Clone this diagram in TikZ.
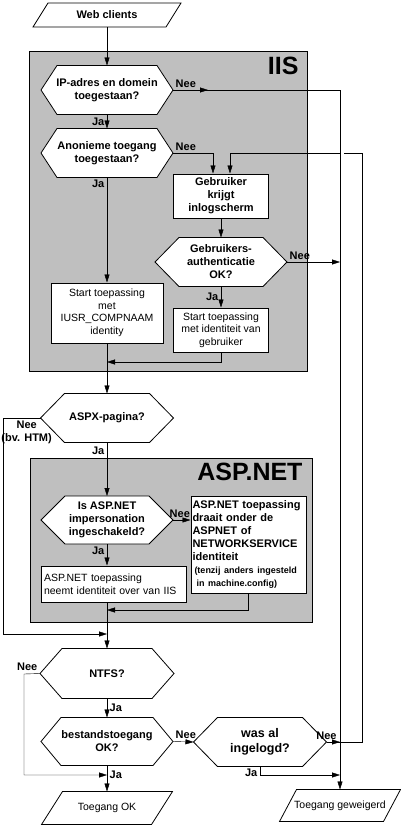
\documentclass[tikz,border=0pt]{standalone}
\usepackage{fontspec}
\setmainfont{Liberation Sans}
\usetikzlibrary{arrows.meta}

\pgfdeclarelayer{back}
\pgfdeclarelayer{shapes}
\pgfsetlayers{back,shapes,main}

\newcommand{\smalltxt}{\fontsize{9}{12.7}\selectfont}

\tikzset{
  arr/.style={-{Triangle[length=8pt,width=5pt]}},
  zone/.style={draw,fill=black!25},
  zonelbl/.style={font=\fontsize{25}{25}\selectfont\bfseries,inner sep=0pt},
  hexq/.style={align=center,inner sep=0pt},
  actbox/.style={draw,fill=white,align=center,inner sep=1pt},
  normtxt/.style={font=\fontsize{10.5}{12.5}\selectfont},
  lbl/.style={inner sep=2.5pt},
}

\begin{document}
\begin{tikzpicture}[x=1pt,y=-1pt,line width=1pt,
  every node/.style={font=\fontsize{11}{13}\selectfont\bfseries}]
\useasboundingbox (0,0) rectangle (401,825);

% input
\node[hexq,minimum width=147,minimum height=23] (web) at (107,15) {Web clients};

% IIS part
\node[zonelbl,anchor=base east] (iis) at (299,74) {IIS};
\node[hexq,minimum width=131,minimum height=48] (ip) at (107,90) {IP-adres en domein\\toegestaan?};
\node[hexq,minimum width=131,minimum height=48] (anon) at (107,153) {Anonieme toegang\\toegestaan?};
\node[actbox,minimum width=95,minimum height=44] (geb) at (221,196) {Gebruiker\\krijgt\\inlogscherm};
\node[hexq,minimum width=131,minimum height=48] (auth) at (221,262) {Gebruikers-\\authenticatie\\OK?};
\node[actbox,normtxt,minimum width=95,minimum height=44] (startid) at (221,330) {Start toepassing\\met identiteit van\\gebruiker};
\node[actbox,normtxt,minimum width=112,minimum height=60] (iusr) at (107,313) {Start toepassing\\met\\IUSR\_COMPNAAM\\identity};

\node[hexq,minimum width=132,minimum height=48] (aspx) at (107,418) {ASPX-pagina?};

% ASP.NET part
\node[zonelbl,anchor=base east] (aspnet) at (303,480) {ASP.NET};
\node[hexq,minimum width=131,minimum height=47] (isasp) at (107,520) {Is ASP.NET\\impersonation\\ingeschakeld?};
\node[actbox,align=left,text width=112,minimum height=97,inner sep=1.5pt] (netw) at (248.5,544.5)
  {ASP.NET toepassing\\draait onder de\\ASPNET of\\NETWORKSERVICE\\identiteit\\\smalltxt\hspace*{2pt}(tenzij anders ingesteld\\\hspace*{4pt}in machine.config)};
\node[actbox,normtxt,align=left,text width=139,minimum height=36,inner xsep=3pt] (neemt) at (113.5,584) {ASP.NET toepassing\\neemt identiteit over van IIS};

% file access
\node[hexq,minimum width=133,minimum height=49] (ntfs) at (107,673.5) {NTFS?};
\node[hexq,minimum width=131,minimum height=47] (best) at (107,741.5) {bestandstoegang\\OK?};
\node[hexq,font=\fontsize{12.5}{15}\selectfont\bfseries,minimum width=132,minimum height=48] (wasal) at (260,742) {was al\\ingelogd?};
\node[hexq,normtxt,minimum width=130,minimum height=32] (ok) at (107,808) {Toegang OK};
\node[hexq,normtxt,minimum width=120,minimum height=31] (deny) at (340,805.5) {Toegang geweigerd};

\coordinate (nee1) at (340,90);
\coordinate (back1) at (362,742);
\coordinate (join1) at (107,362);
\coordinate (join2) at (107,610);
\coordinate (join3) at (107,634);
\coordinate (join4) at (107,775);
\coordinate (skip1) at (3,418);
\coordinate (skip2) at (24,674);

\begin{pgfonlayer}{back}
  \fill[white] (0,0) rectangle (401,825);
  \draw[zone] (29,51) rectangle (307,371);
  \draw[zone] (30,458) rectangle (312,622);
\end{pgfonlayer}

\begin{pgfonlayer}{shapes}
  \foreach \n/\d in {ip/16,anon/16,auth/24,aspx/24,isasp/24,ntfs/22,best/20,wasal/24}
    \draw[fill=white,line width=0.8pt] (\n.west) -- ([xshift=\d]\n.north west) -- ([xshift=-\d]\n.north east)
      -- (\n.east) -- ([xshift=-\d]\n.south east) -- ([xshift=\d]\n.south west) -- cycle;
  \foreach \n/\d in {web/15,ok/21,deny/17}
    \draw[fill=white,line width=0.8pt] (\n.south west) -- ([xshift=\d]\n.north west) -- (\n.north east)
      -- ([xshift=-\d]\n.south east) -- cycle;
\end{pgfonlayer}

% connectors
\draw[arr] (web.south) -- (ip.north);
\draw[arr] (ip.south) -- node[lbl,left]{Ja} (anon.north);
\draw[arr] (ip.east) node[lbl,above right]{Nee} -- ([xshift=35]ip.east);
\draw[arr] (ip.east) -- (nee1) -- (nee1 |- deny.north);
\draw[arr] (anon.east) node[lbl,above right]{Nee} -| ([xshift=-8]geb.north);
\draw[arr] (anon.south) node[lbl,below left]{Ja} -- (iusr.north);
\draw[arr] (geb.south) -- (auth.north);
\draw[arr] (auth.east) node[lbl,above right]{Nee} -- (auth.east -| nee1);
\draw[arr] (auth.south) -- node[lbl,left]{Ja} (startid.north);
\draw[arr] (startid.south) |- (join1);
\draw[arr] (iusr.south) -- (aspx.north);
\draw[arr] (aspx.west) node[lbl,anchor=north east,align=center,xshift=14]{Nee\\(bv. HTM)} -- (skip1) |- (join3);
\draw[arr] (aspx.south) -- node[lbl,left,pos=0.15]{Ja} (isasp.north);
\draw[arr] (isasp.east) node[lbl,above right,xshift=-6]{Nee} -- (isasp.east -| netw.west);
\draw[arr] (isasp.south) node[lbl,below left]{Ja} -- (isasp.south |- neemt.north);
\draw[arr] (netw.south) |- (join2);
\draw[arr] (isasp.south |- neemt.south) -- (ntfs.north);
\draw[arr] (ntfs.west) node[lbl,above left]{Nee} -- (skip2) -- (skip2 |- join4) -- (join4);
\draw[arr] (ntfs.south) -- node[lbl,right]{Ja} (best.north);
\draw[arr] (best.east) node[lbl,above right]{Nee} -- (wasal.west);
\draw[arr] (best.south) -- node[lbl,right,pos=0.35]{Ja} (ok.north);
\draw[arr] (wasal.south) node[lbl,below left]{Ja} |- (join4 -| nee1);
\draw[arr] (wasal.east) node[lbl,above]{Nee} -- (wasal.east -| nee1);
\draw[arr] (wasal.east) -- (back1) -- (back1 |- anon.east) -| ([xshift=9]geb.north);
% line jump where the return line crosses
\draw[white,line width=1.6pt] ([xshift=1]nee1 |- anon.east) -- ([xshift=4]nee1 |- anon.east);
\end{tikzpicture}
\end{document}
